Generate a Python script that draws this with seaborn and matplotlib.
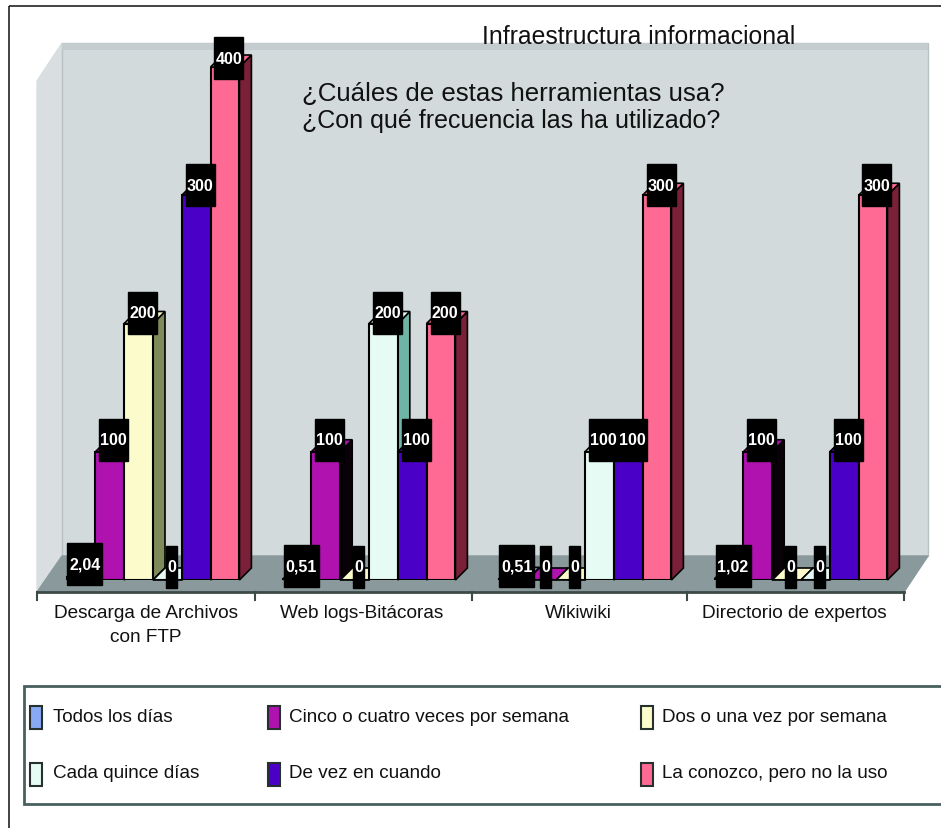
import numpy as np
import pandas as pd
import matplotlib
matplotlib.use('Agg')
import matplotlib.pyplot as plt
from matplotlib.patches import Polygon, Rectangle
from matplotlib.transforms import ScaledTranslation
import seaborn as sns

herramientas = ['Descarga de Archivos\ncon FTP', 'Web logs-Bitácoras', 'Wikiwiki', 'Directorio de expertos']
frecuencias = ['Todos los días', 'Cinco o cuatro veces por semana', 'Dos o una vez por semana',
               'Cada quince días', 'De vez en cuando', 'La conozco, pero no la uso']
todos_los_dias = [2.04, 0.51, 0.51, 1.02]
cinco_cuatro = [100, 100, 0, 100]
dos_una = [200, 0, 0, 0]
cada_quince = [0, 200, 100, 0]
de_vez = [300, 100, 100, 100]
la_conozco = [400, 200, 300, 300]
series = [todos_los_dias, cinco_cuatro, dos_una, cada_quince, de_vez, la_conozco]

colores = ['#88aaf5', '#b012b0', '#fbfbcc', '#e6fbf4', '#4b00c8', '#ff6a94']
laterales = ['#1c2a50', '#0a0008', '#7f8a5a', '#6fb5a5', '#1c0050', '#7a2038']

W, H = 941, 829
plt.rcParams['font.family'] = ['Liberation Sans', 'DejaVu Sans']
fig = plt.figure(figsize=(W / 100, H / 100), dpi=100)

# fondo: pared, suelo, marco y leyenda, en pixeles de la imagen
fondo = fig.add_axes([0, 0, 1, 1])
fondo.set_xlim(0, W)
fondo.set_ylim(H, 0)
fondo.axis('off')
fondo.add_patch(Rectangle((9.5, 7), W, H, fill=False, edgecolor='#222222', lw=1.2))
fondo.add_patch(Polygon([[37, 82], [62, 44], [62, 557], [37, 594]], color='#d9dfe1'))
fondo.add_patch(Rectangle((62, 44), 866, 513, facecolor='#d2dadc', edgecolor='#b9c1c4', lw=1))
fondo.add_patch(Rectangle((62, 44), 866, 7, facecolor='#c5cccf', edgecolor='none'))
fondo.add_patch(Polygon([[37, 593], [62, 557], [928, 557], [904, 593]], color='#8a9a9c'))
fondo.plot([37, 904], [593, 593], color='#3c4a48', lw=2)
for xt in [37, 255, 472, 687, 904]:
    fondo.plot([xt, xt], [593, 601], color='#3c4a48', lw=1.5)
fondo.add_patch(Rectangle((24, 687), W, 118, facecolor='white', edgecolor='#48605e', lw=2))
col_x = [30, 268, 641]
col_txt = [53, 289, 662]
fila_y = [718, 775]
for i, nombre in enumerate(frecuencias):
    c, y = i % 3, fila_y[i // 3]
    fondo.add_patch(Rectangle((col_x[c], y - 11), 12, 23, facecolor=colores[i], edgecolor='#26302e', lw=1.5))
    fondo.text(col_txt[c], y - 1, nombre, fontsize=13.6, va='center', color='#111111')
fondo.text(482, 44, 'Infraestructura informacional', fontsize=17.8, va='baseline', color='#111111')
fondo.text(302, 101, '¿Cuáles de estas herramientas usa?', fontsize=18.6, va='baseline', color='#111111')
fondo.text(302, 128, '¿Con qué frecuencia las ha utilizado?', fontsize=18, va='baseline', color='#111111')

# barras
df = pd.DataFrame({
    'herramienta': np.tile(herramientas, len(frecuencias)),
    'frecuencia': np.repeat(frecuencias, len(herramientas)),
    'valor': np.concatenate(series),
})
ax = fig.add_axes([45 / W, 1 - 581 / H, 864 / W, 513 / H])
ax.patch.set_alpha(0)
sns.barplot(data=df, x='herramienta', y='valor', hue='frecuencia', hue_order=frecuencias,
            order=herramientas, palette=colores, saturation=1, width=0.8, edgecolor='black',
            linewidth=1.5, legend=False, ax=ax)
ax.set_xlim(-0.5, 3.5)
ax.set_ylim(0, 400)
ax.set_xlabel('')
ax.set_ylabel('')
ax.set_yticks([])
sns.despine(ax=ax, left=True, bottom=True)
ax.tick_params(axis='x', length=0, pad=17, labelsize=13.7, labelcolor='#111111')
for etiqueta in ax.get_xticklabels():
    etiqueta.set_linespacing(1.55)
    etiqueta.set_transform(etiqueta.get_transform() + ScaledTranslation(-7 / 100, 0, fig.dpi_scale_trans))

ux = 4 / 864
uy = 400 / 513
prof = 12
for i, contenedor in enumerate(ax.containers):
    for barra in contenedor:
        x0 = barra.get_x()
        x1 = x0 + barra.get_width()
        v = barra.get_height()
        dx, dy = prof * ux, prof * uy
        barra.set_zorder(3 + 2 * i)
        ax.add_patch(Polygon([[x1, 0], [x1 + dx, dy], [x1 + dx, v + dy], [x1, v]],
                             facecolor=laterales[i], edgecolor='black', lw=1.2, zorder=2 + 2 * i, clip_on=False))
        ax.add_patch(Polygon([[x0, v], [x0 + dx, v + dy], [x1 + dx, v + dy], [x1, v]],
                             facecolor=colores[i], edgecolor='black', lw=1.2, zorder=2 + 2 * i, clip_on=False))
        # etiqueta negra
        texto = f'{v:g}'.replace('.', ',')
        ancho = {1: 11, 3: 29}.get(len(texto), 35)
        cx = (x0 + x1) / 2 + 4 * ux
        cy = v + (13 - v / 100) * uy
        ax.add_patch(Rectangle((cx - ancho / 2 * ux, cy - 21 * uy), ancho * ux, 42 * uy, color='black',
                               zorder=30, clip_on=False))
        ax.text(cx, cy, texto, color='white', fontsize=11.5, fontweight='bold', ha='center', va='center',
                zorder=31, clip_on=False)

fig.savefig('out.png', dpi=100)
